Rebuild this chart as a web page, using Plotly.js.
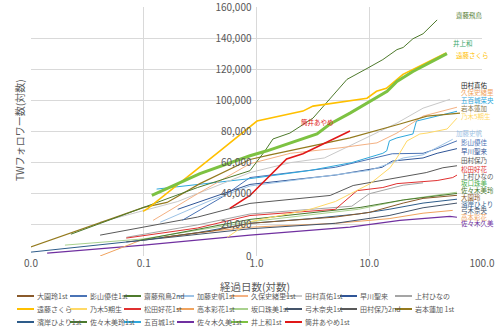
<!DOCTYPE html>
<html><head><meta charset="utf-8">
<script src="https://cdn.plot.ly/plotly-3.0.1.min.js"></script>
<style>html,body{margin:0;padding:0;background:#fff}#chart{width:500px;height:329px}</style>
</head><body><div id="chart"></div>
<script>
// ---- data (x: 経過日数, y: フォロワー数) ----
const ozono_x   = [0.15, 0.4, 0.875, 5, 10, 20, 30, 60];
const ozono_y   = [12000, 16000, 21000, 25000, 28000, 34000, 37000, 39000];
const kageyama_x = [0.22, 0.5, 0.875, 5, 16, 30, 40, 60];
const kageyama_y = [23000, 38000, 50400, 57000, 65700, 66000, 69000, 74000];
const saito_x   = [0.0226, 0.1, 0.3, 0.875, 1.19, 1.4, 1.98, 3.17, 4.49, 6.35, 9.55, 13.2, 17.6, 20, 24.4, 30, 40];
const saito_y   = [14000, 31000, 44000, 54800, 67600, 75200, 79000, 88600, 101400, 113500, 120500, 126200, 132600, 134000, 139600, 142800, 151700];
const kato_x    = [0.14, 0.4, 0.875, 5, 10, 16, 20, 30, 55];
const kato_y    = [21700, 36000, 45000, 52000, 55000, 60000, 63000, 65000, 75000];
const kubo_x    = [0.121, 0.3, 0.875, 2, 5.5, 11.7, 17.6, 30, 60];
const kubo_y    = [22900, 40000, 59300, 66000, 69500, 72700, 79000, 89900, 95600];
const tamuraM_x = [0.041, 0.2, 0.875, 2, 4, 6.75, 11.7, 17.6, 30, 52];
const tamuraM_y = [21700, 35000, 53600, 60000, 63000, 70800, 79000, 85400, 95000, 100700];
const hayakawa_x = [0.2, 0.5, 0.875, 5, 13, 16, 30, 40, 60];
const hayakawa_y = [30000, 40000, 46000, 52000, 57000, 61000, 63000, 66000, 69000];
const kamimura_x = [0.07, 0.3, 0.875, 7, 10, 15, 20, 30];
const kamimura_y = [12000, 20000, 27000, 32000, 40000, 43500, 45500, 47000];
const endo_x    = [0.0985, 0.109, 0.475, 0.875, 1.01, 2.58, 3.17, 9.55, 11.6, 14.2, 19.9, 24.4, 48];
const endo_y    = [28700, 30600, 67600, 83500, 86700, 93100, 96300, 101400, 105800, 107700, 116700, 119900, 130500];
const gokisei_x = [0.55, 0.875, 3, 5, 10.2, 15.3, 17.6, 21.6, 28.1, 32.5, 49, 60];
const gokisei_y = [12000, 22000, 30000, 35000, 46500, 56700, 63100, 73900, 78400, 79000, 81600, 88600];
const matsuda_x = [0.07, 0.3, 0.875, 5, 7.8, 13.2, 17.6, 40, 55, 60];
const matsuda_y = [11500, 18000, 26000, 30000, 42000, 44000, 46500, 48500, 50400, 52000];
const takamoto_x = [0.041, 0.093, 0.3, 0.875, 5, 15, 30, 55];
const takamoto_y = [0, 10000, 15000, 18500, 21000, 24000, 27500, 29300];
const sakaguchi_x = [0.02, 0.1, 0.875, 8, 20, 60];
const sakaguchi_y = [7000, 11000, 22000, 30000, 36000, 41000];
const yumiki_x  = [0.07, 0.875, 5, 15, 30, 60];
const yumiki_y  = [9000, 17500, 21000, 26000, 31000, 34000];
const tamuraH_x = [0.041, 0.3, 0.875, 4.5, 7.2, 16, 32, 45, 60];
const tamuraH_y = [13400, 25000, 33800, 38900, 45300, 49700, 53600, 56700, 58000];
const iwamoto_x = [0.0098, 0.1, 0.161, 0.315, 0.875, 1.32, 6.75, 13.2, 18.7, 32.5, 63.8];
const iwamoto_y = [5700, 31200, 34400, 46500, 62000, 65000, 75900, 81600, 84800, 89900, 91800];
const hamagishi_x = [0.01, 0.1, 0.3, 0.875, 3, 8, 15, 30, 60];
const hamagishi_y = [2500, 10200, 15000, 21000, 24000, 27000, 30000, 34000, 36500];
const sasakiMirei_x = [0.09, 0.3, 0.875, 8.3, 20, 60];
const sasakiMirei_y = [10000, 17000, 23500, 31200, 36000, 40200];
const ioki_x    = [0.13, 0.875, 3, 7, 13.2, 14.3, 15.1, 17.6, 24.4, 26.2, 40, 60];
const ioki_y    = [43000, 49700, 55000, 60000, 66000, 67600, 74000, 75900, 78400, 86700, 89900, 93000];
const sasakiKumi_x = [0.0139, 0.1, 0.875, 6.75, 18.7, 52, 60];
const sasakiKumi_y = [1900, 7000, 13400, 18500, 22900, 25500, 24900];
const inoue_x   = [0.118, 0.315, 0.875, 1.24, 3.44, 4.49, 6.75, 10.2, 14.4, 17.6, 24.4, 48.9];
const inoue_y   = [38900, 52900, 64400, 67600, 78400, 84800, 91800, 99500, 105800, 112200, 118600, 130000];
const tsutsui_x = [0.58, 0.875, 1.85, 2.58, 6.75];
const tsutsui_y = [30600, 38900, 62300, 65700, 80300];

// legend names (legend order) and label texts
const seriesNames = ['大園玲1st','影山優佳1st','齋藤飛鳥2nd','加藤史帆1st','久保史緒里1st','田村真佑1st','早川聖来','上村ひなの',
  '遠藤さくら','乃木5期生','松田好花1st','高本彩花1st','坂口珠美1st','弓木奈央1st','田村保乃2nd','岩本蓮加 1st',
  '濱岸ひより1st','佐々木美玲1st','五百城1st','佐々木久美1st','井上和1st','筒井あやめ1st'];
const endLabels = ['大園玲','影山優佳','齋藤飛鳥','加藤史帆','久保史緒里','田村真佑','早川聖来','上村ひなの',
  '遠藤さくら','乃木5期生','松田好花','高本彩花','坂口珠美','弓木奈央','田村保乃','岩本蓮加',
  '濱岸ひより','佐々木美玲','五百城茉央','佐々木久美','井上和','筒井あやめ'];
const xTickVals = [0.01, 0.1, 1, 10, 100];
const yTickVals = [0, 20000, 40000, 60000, 80000, 100000, 120000, 140000, 160000];

// ---- styles ----
const seriesX = [ozono_x,kageyama_x,saito_x,kato_x,kubo_x,tamuraM_x,hayakawa_x,kamimura_x,
  endo_x,gokisei_x,matsuda_x,takamoto_x,sakaguchi_x,yumiki_x,tamuraH_x,iwamoto_x,
  hamagishi_x,sasakiMirei_x,ioki_x,sasakiKumi_x,inoue_x,tsutsui_x];
const seriesY = [ozono_y,kageyama_y,saito_y,kato_y,kubo_y,tamuraM_y,hayakawa_y,kamimura_y,
  endo_y,gokisei_y,matsuda_y,takamoto_y,sakaguchi_y,yumiki_y,tamuraH_y,iwamoto_y,
  hamagishi_y,sasakiMirei_y,ioki_y,sasakiKumi_y,inoue_y,tsutsui_y];
const colors = ['#8a5a2b','#4a73b5','#4e7a2c','#9dc3e6','#f4b183','#c9c9c9','#2f5597','#a5a5a5',
  '#ffc000','#ffd966','#e03030','#f0a35e','#a9d18e','#44546a','#595959','#947a1e',
  '#2e5c8a','#4a7a2e','#2ea8dc','#7030a0','#7dc242','#e01818'];
const labelColors = ['#8a5a2b','#4a73b5','#4e7a2c','#9dc3e6','#f0a35e','#222222','#2f5597','#595959',
  '#ffc000','#ffd966','#e03030','#f0a35e','#4caf50','#44546a','#595959','#8a7a50',
  '#2e5c8a','#4a7a2e','#2ea8dc','#7030a0','#3aa66a','#e01818'];
const widths = [1,1,1,1,1,1,1,1, 1.6,1,1,1,1,1,1,1.2, 1,1,1,1.2,3,1.6];
// label pixel positions (left, center-y)
const labelPx = [[460,197],[460,142],[455,15],[455,133],[460,92],[460,84.5],[460,151],[460,176],
  [455,55],[460,116],[460,169],[460,216.5],[460,183],[460,210],[460,160],[460,108],
  [460,203.5],[460,190],[460,100],[460,223],[452,43],[300,122]];

const PL = 31, PR = 482, PT = 7, PB = 256;
const px2x = p => (p - PL) / (PR - PL);
const py2y = p => (PB - p) / (PB - PT);

const drawOrder = [19,11,16,13,12,17,0,7,10,14,1,6,3,18,9,5,4,15,2,21,8,20];
const traces = drawOrder.map(i => ({
  type: 'scatter', mode: 'lines', name: seriesNames[i],
  x: seriesX[i], y: seriesY[i],
  line: {color: colors[i], width: widths[i]},
  showlegend: false, hoverinfo: 'skip'
}));

const annotations = [];
const shapes = [];
const FONT = '"Noto Sans CJK JP", "Noto Sans", sans-serif';
endLabels.forEach((t, i) => {
  annotations.push({xref:'paper', yref:'paper', x: px2x(labelPx[i][0]), y: py2y(labelPx[i][1]),
    xanchor:'left', yanchor:'middle', text: t, showarrow:false, borderpad:0,
    font:{family: FONT, size: 6.5, color: labelColors[i]}});
});
// custom legend: 8 columns x 3 rows
const colX = [17, 70, 124, 177, 231, 285, 340, 395];
const rowY = [296, 309, 322];
seriesNames.forEach((n, i) => {
  const c = i % 8, r = Math.floor(i / 8);
  shapes.push({type:'line', xref:'paper', yref:'paper',
    x0: px2x(colX[c]), x1: px2x(colX[c] + 17), y0: py2y(rowY[r]), y1: py2y(rowY[r]),
    line:{color: colors[i], width: 2}});
  annotations.push({xref:'paper', yref:'paper', x: px2x(colX[c] + 19), y: py2y(rowY[r]),
    xanchor:'left', yanchor:'middle', text: n, showarrow:false, borderpad:0,
    font:{family: FONT, size: 7, color:'#595959'}});
});
annotations.push({xref:'paper', yref:'paper', x: px2x(255), y: py2y(286), text:'経過日数(対数)',
  showarrow:false, xanchor:'center', yanchor:'middle', font:{family: FONT, size: 10.5, color:'#595959'}});
annotations.push({xref:'paper', yref:'paper', x: px2x(19), y: py2y(130), text:'TWフォロワー数(対数)',
  textangle:-90, showarrow:false, xanchor:'center', yanchor:'middle', font:{family: FONT, size: 10, color:'#595959'}});

const layout = {
  width: 500, height: 329,
  margin: {l: PL, r: 500 - PR, t: PT, b: 329 - PB},
  paper_bgcolor: '#fff', plot_bgcolor: '#fff',
  showlegend: false,
  font: {family: FONT, color: '#595959'},
  xaxis: {type:'log', range:[-2, 2], tickvals: xTickVals, tickformat: '.1f',
    showgrid: true, gridcolor:'#d9d9d9', gridwidth: 1, zeroline:false, showline:false,
    ticks:'', tickfont:{size: 10, color:'#595959', family: FONT}, fixedrange:true},
  yaxis: {range:[0, 160000], tickvals: yTickVals, tickformat: ',d', anchor:'free', position: 0.5,
    showgrid: true, gridcolor:'#d9d9d9', gridwidth: 1, zeroline:false, showline:false,
    ticklabeloverflow:'allow',
    ticks:'', ticklabelstandoff: 5, tickfont:{size: 10, color:'#595959', family: FONT}, fixedrange:true},
  annotations, shapes
};
Plotly.newPlot('chart', traces, layout, {displayModeBar:false, staticPlot:true});
</script></body></html>
